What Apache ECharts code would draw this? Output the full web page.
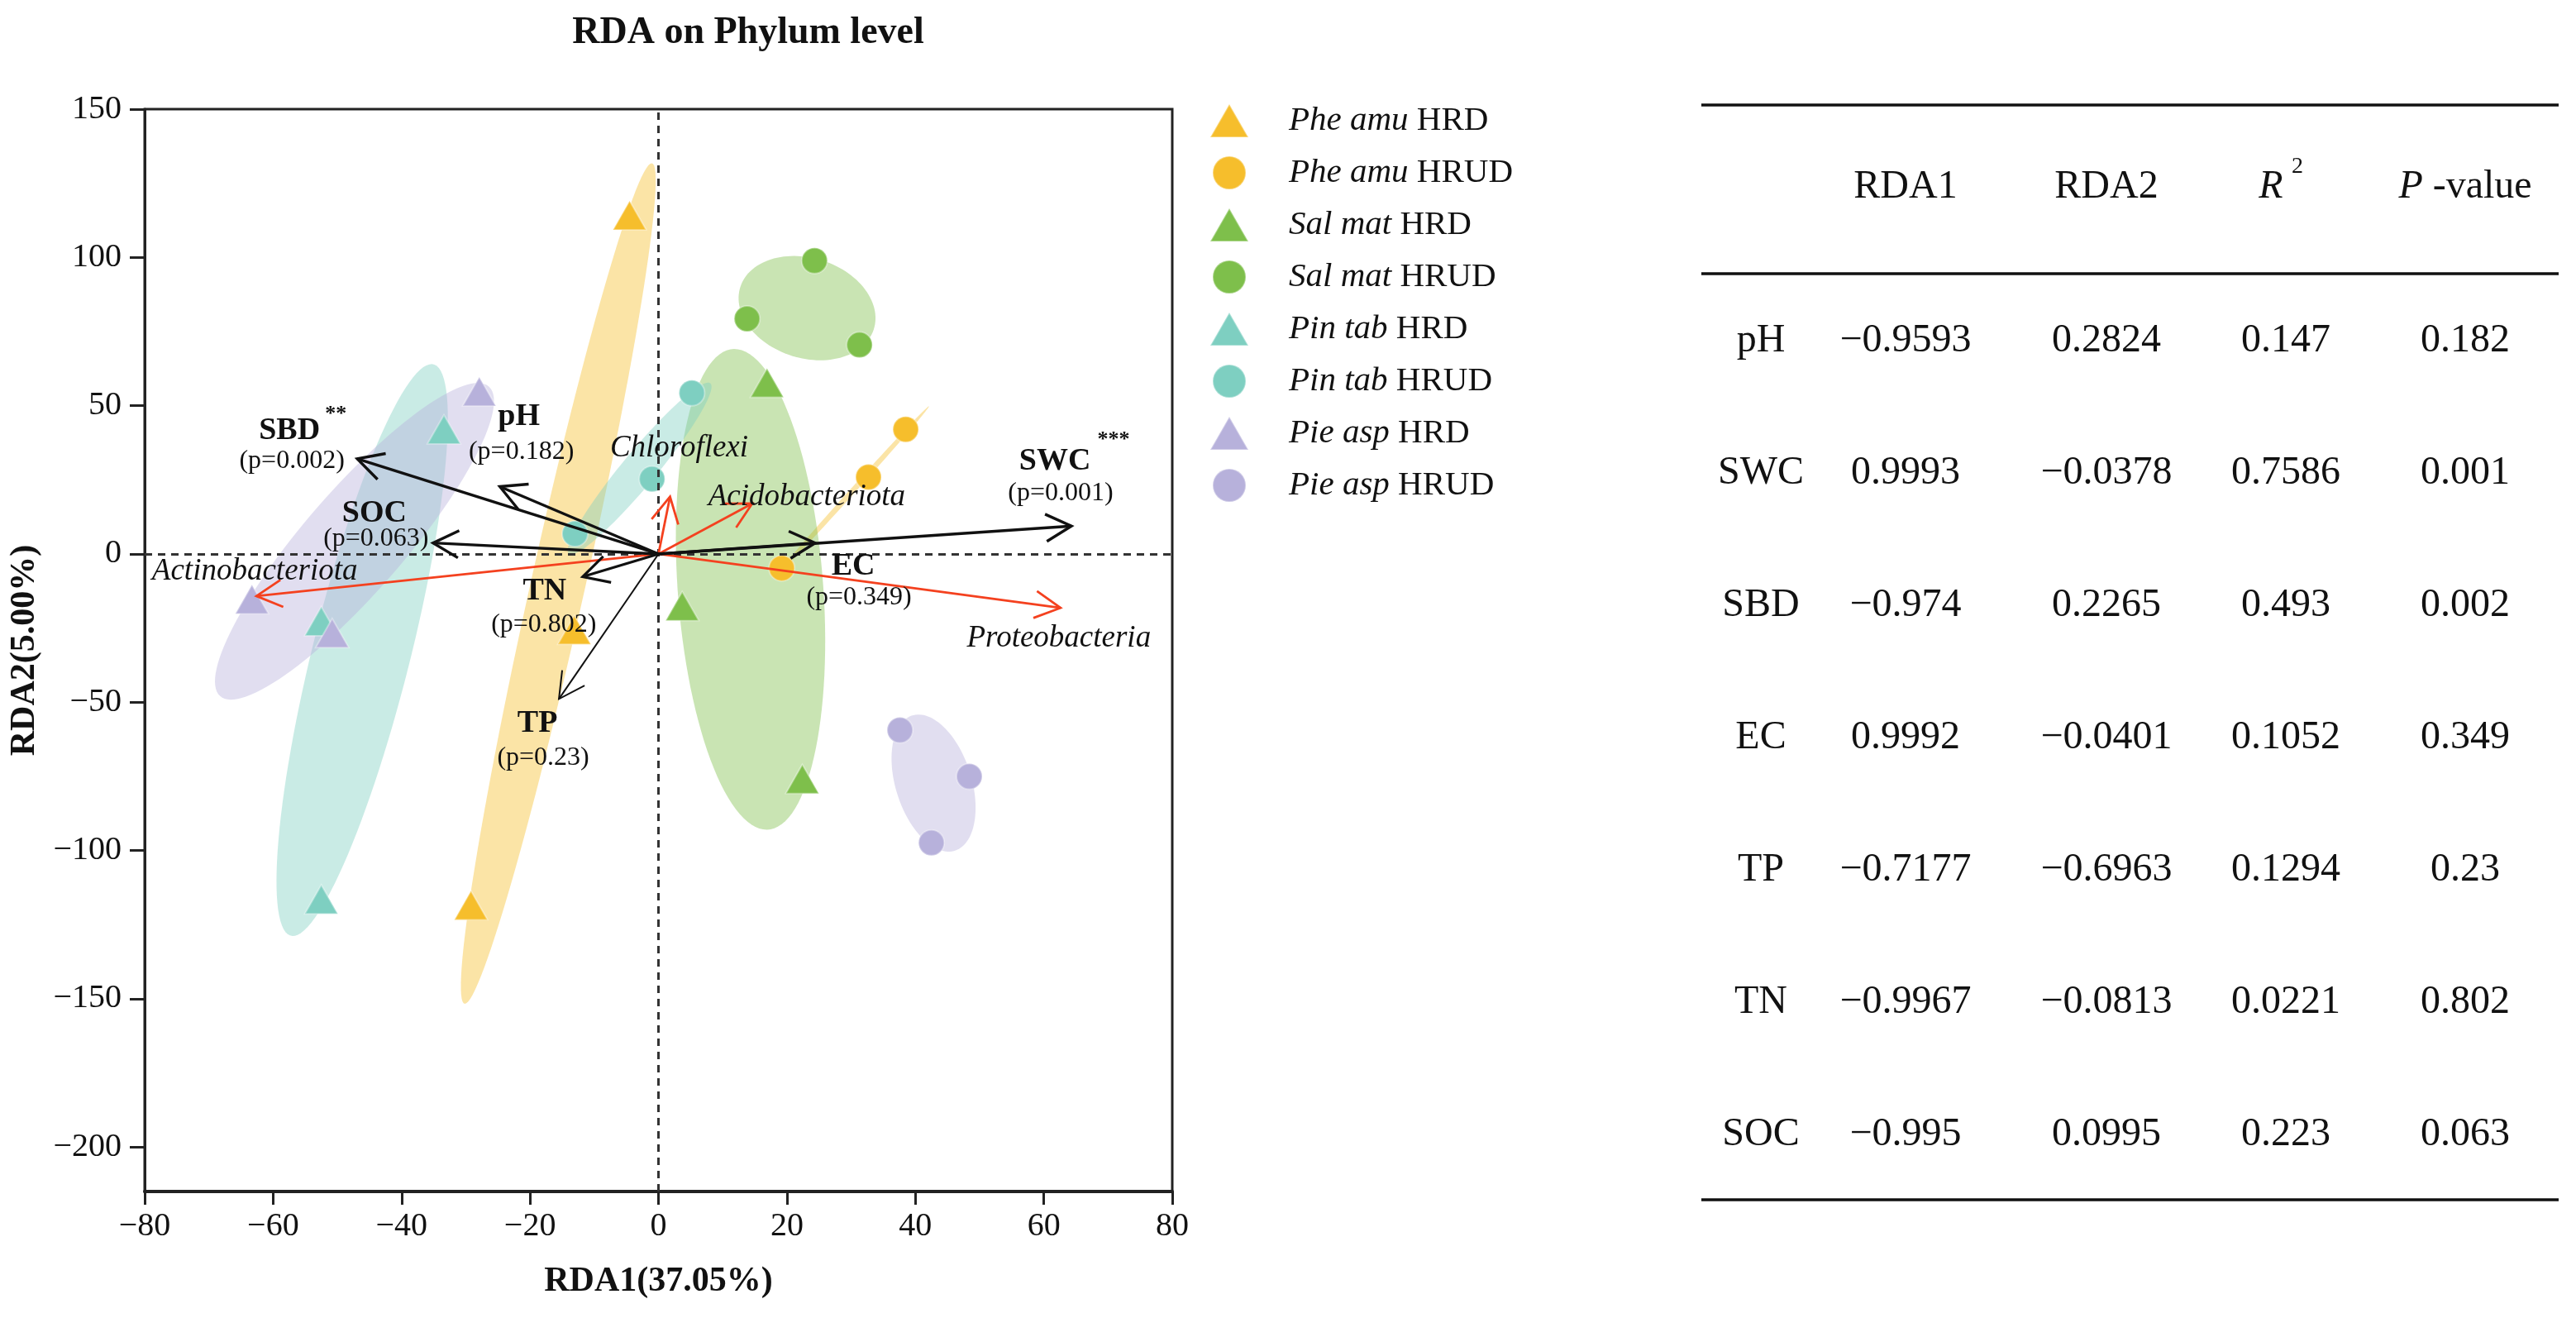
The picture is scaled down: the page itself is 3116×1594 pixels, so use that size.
<!DOCTYPE html>
<html>
<head>
    <meta charset="utf-8">
    <title>RDA on Phylum level</title>
    <script src="https://cdn.jsdelivr.net/npm/echarts@6.0.0/dist/echarts.min.js"></script>
    <style>
        html, body { margin: 0; padding: 0; background: #fff; }
        #chart1 { width: 3116px; height: 1594px; }
    </style>
</head>
<body>
<div id="chart1"></div>
<script type="text/javascript">
    // 样点坐标 (RDA1, RDA2)
    var pheAmuHRD  = [[-4.5, 114.2], [-13.1, -25.6], [-29.2, -118.5]];
    var pheAmuHRUD = [[38.5, 42.0], [32.7, 25.9], [19.2, -4.8]];
    var salMatHRD  = [[16.9, 57.7], [3.7, -17.6], [22.4, -75.9]];
    var salMatHRUD = [[24.3, 98.9], [13.8, 79.3], [31.3, 70.5]];
    var pinTabHRD  = [[-33.4, 42.0], [-52.5, -22.7], [-52.5, -116.5]];
    var pinTabHRUD = [[5.2, 54.3], [-1.0, 25.3], [-13.0, 6.8]];
    var pieAspHRD  = [[-27.9, 54.8], [-63.3, -15.3], [-50.8, -26.7]];
    var pieAspHRUD = [[37.6, -59.4], [48.4, -75.0], [42.5, -97.4]];

    var groupNames   = ['Phe amu HRD', 'Phe amu HRUD', 'Sal mat HRD', 'Sal mat HRUD',
                        'Pin tab HRD', 'Pin tab HRUD', 'Pie asp HRD', 'Pie asp HRUD'];
    var groupSpecies = ['Phe amu', 'Phe amu', 'Sal mat', 'Sal mat', 'Pin tab', 'Pin tab', 'Pie asp', 'Pie asp'];
    var groupSite    = ['HRD', 'HRUD', 'HRD', 'HRUD', 'HRD', 'HRUD', 'HRD', 'HRUD'];
    var groupPoints  = [pheAmuHRD, pheAmuHRUD, salMatHRD, salMatHRUD, pinTabHRD, pinTabHRUD, pieAspHRD, pieAspHRUD];

    // 环境因子箭头
    var envNames = ['pH', 'SWC', 'SBD', 'EC', 'TP', 'TN', 'SOC'];
    var envX = [-24.7, 64.3, -46.9, 24.4, -15.5, -11.8, -35.1];
    var envY = [22.7, 9.4, 32.1, 3.7, -48.9, -7.7, 3.7];

    // 门水平物种箭头
    var phylaNames = ['Actinobacteriota', 'Proteobacteria', 'Chloroflexi', 'Acidobacteriota'];
    var phylaX = [-62.6, 62.6, 1.8, 14.6];
    var phylaY = [-14.2, -18.2, 19.3, 17.0];

    // 右侧表格
    var tableRDA1 = [-0.9593, 0.9993, -0.974, 0.9992, -0.7177, -0.9967, -0.995];
    var tableRDA2 = [0.2824, -0.0378, 0.2265, -0.0401, -0.6963, -0.0813, 0.0995];
    var tableR2   = [0.147, 0.7586, 0.493, 0.1052, 0.1294, 0.0221, 0.223];
    var tableP    = [0.182, 0.001, 0.002, 0.349, 0.23, 0.802, 0.063];

    // 刻度
    var xTicks = [-80, -60, -40, -20, 0, 20, 40, 60, 80];
    var yTicks = [-200, -150, -100, -50, 0, 50, 100, 150];

    // ---------- 样式 ----------
    var FONT = '"Liberation Serif", "DejaVu Serif", serif';
    var groupColor = ['#F6BE2C', '#F6BE2C', '#7EBF4B', '#7EBF4B', '#7ECFC1', '#7ECFC1', '#B7B1DB', '#B7B1DB'];
    var groupShape = ['triangle', 'circle', 'triangle', 'circle', 'triangle', 'circle', 'triangle', 'circle'];
    var ELLIPSE_K = 1.21;
    var envWidth = {pH: 3.4, SWC: 3.4, SBD: 3.4, EC: 3.4, TP: 2, TN: 3.2, SOC: 3.4};
    var envNameOff = {pH: [23, -84], SWC: [-20, -78], SBD: [-82, -34], EC: [46, 29], TP: [-26, 30], TN: [-46, 18], SOC: [-71, -35]};
    var envPOff = {pH: [26, -42], SWC: [-13, -40], SBD: [-79, 3], EC: [53, 66], TP: [-19, 71], TN: [-47, 58], SOC: [-69, -5]};
    var starOff = {SWC: [51, -104], SBD: [-26, -54]};
    var phylaOff = {Actinobacteriota: [-2, -30], Proteobacteria: [-2, 37], Chloroflexi: [11, -58], Acidobacteriota: [66, -8]};
    var RED = '#F4411F';

    function fmt(v) {
        return String(v).replace('-', '\u2212');
    }

    function stars(p) {
        if (p <= 0.001) return '***';
        if (p <= 0.01) return '**';
        if (p <= 0.05) return '*';
        return '';
    }

    // 协方差置信椭圆
    function ellipse(pts) {
        var n = pts.length, mx = 0, my = 0;
        pts.forEach(function (p) { mx += p[0]; my += p[1]; });
        mx /= n; my /= n;
        var sxx = 0, syy = 0, sxy = 0;
        pts.forEach(function (p) {
            var dx = p[0] - mx, dy = p[1] - my;
            sxx += dx * dx; syy += dy * dy; sxy += dx * dy;
        });
        sxx /= (n - 1); syy /= (n - 1); sxy /= (n - 1);
        var tr = sxx + syy, det = sxx * syy - sxy * sxy;
        var d = Math.sqrt(Math.max(tr * tr / 4 - det, 0));
        var a = Math.sqrt(tr / 2 + d), b = Math.sqrt(Math.max(tr / 2 - d, 0));
        var ang = 0.5 * Math.atan2(2 * sxy, sxx - syy);
        var out = [];
        for (var i = 0; i < 120; i++) {
            var t = i / 120 * Math.PI * 2;
            var u = ELLIPSE_K * a * Math.cos(t), v = ELLIPSE_K * b * Math.sin(t);
            out.push([mx + u * Math.cos(ang) - v * Math.sin(ang), my + u * Math.sin(ang) + v * Math.cos(ang)]);
        }
        return out;
    }

    function arrowShapes(o, t, color, w) {
        var a = Math.atan2(t[1] - o[1], t[0] - o[0]);
        var L = 35, th = 28 * Math.PI / 180;
        var h1 = [t[0] - L * Math.cos(a - th), t[1] - L * Math.sin(a - th)];
        var h2 = [t[0] - L * Math.cos(a + th), t[1] - L * Math.sin(a + th)];
        return [
            {type: 'line', shape: {x1: o[0], y1: o[1], x2: t[0], y2: t[1]}, style: {stroke: color, lineWidth: w}},
            {type: 'polyline', shape: {points: [h1, t, h2]}, style: {stroke: color, lineWidth: w, fill: null}}
        ];
    }

    function label(x, y, text, size, weight, style) {
        return {
            type: 'text', x: x, y: y,
            style: {
                text: text, fontFamily: FONT, fontSize: size, fontWeight: weight || 'normal',
                fontStyle: style || 'normal', fill: '#111', align: 'center', verticalAlign: 'middle'
            }
        };
    }

    var myChart1 = echarts.init(document.getElementById('chart1'));

    var series = [];

    // 椭圆
    series.push({
        type: 'custom',
        name: 'ellipse',
        z: 1,
        clip: false,
        silent: true,
        data: groupPoints.map(function (pts, i) { return [pts[0][0], pts[0][1], i]; }),
        renderItem: function (params, api) {
            var i = api.value(2);
            var pts = ellipse(groupPoints[i]).map(function (p) { return api.coord(p); });
            return {
                type: 'polygon',
                shape: {points: pts},
                style: {fill: groupColor[i], opacity: 0.42}
            };
        },
        markLine: {
            silent: true,
            symbol: 'none',
            label: {show: false},
            lineStyle: {type: [9, 7], color: '#333', width: 3},
            data: [{xAxis: 0}, {yAxis: 0}]
        }
    });

    // 样点
    groupNames.forEach(function (name, i) {
        series.push({
            type: 'scatter',
            name: name,
            z: 3,
            symbol: groupShape[i],
            symbolSize: groupShape[i] === 'triangle' ? [40, 35] : 31,
            itemStyle: {color: groupColor[i], opacity: 1, borderColor: 'rgba(255,255,255,0.35)', borderWidth: 2},
            data: groupPoints[i]
        });
    });

    // 物种箭头
    series.push({
        type: 'custom',
        name: 'phyla',
        z: 5,
        clip: false,
        silent: true,
        data: phylaNames.map(function (n, i) { return [phylaX[i], phylaY[i], i]; }),
        renderItem: function (params, api) {
            var i = api.value(2);
            var o = api.coord([0, 0]);
            var t = api.coord([api.value(0), api.value(1)]);
            var kids = arrowShapes(o, t, RED, 2.8);
            var off = phylaOff[phylaNames[i]];
            kids.push(label(t[0] + off[0], t[1] + off[1], phylaNames[i], 37, 'normal', 'italic'));
            return {type: 'group', children: kids};
        }
    });

    // 环境因子箭头
    series.push({
        type: 'custom',
        name: 'env',
        z: 6,
        clip: false,
        silent: true,
        data: envNames.map(function (n, i) { return [envX[i], envY[i], i]; }),
        renderItem: function (params, api) {
            var i = api.value(2);
            var nm = envNames[i];
            var o = api.coord([0, 0]);
            var t = api.coord([api.value(0), api.value(1)]);
            var kids = arrowShapes(o, t, '#111', envWidth[nm]);
            kids.push(label(t[0] + envNameOff[nm][0], t[1] + envNameOff[nm][1], nm, 38, 'bold'));
            kids.push(label(t[0] + envPOff[nm][0], t[1] + envPOff[nm][1], '(p=' + tableP[i] + ')', 32));
            var s = stars(tableP[i]);
            if (s && starOff[nm]) {
                kids.push(label(t[0] + starOff[nm][0], t[1] + starOff[nm][1], s, 26, 'bold'));
            }
            return {type: 'group', children: kids};
        }
    });

    // 表格
    var colX = [2130, 2305, 2548, 2765, 2982];
    var headY = 226, rowY0 = 412, rowStep = 160;
    var graphics = [];
    [127, 331, 1451].forEach(function (y) {
        graphics.push({
            type: 'line', shape: {x1: 2058, y1: y, x2: 3095, y2: y},
            style: {stroke: '#111', lineWidth: 3.5}
        });
    });
    graphics.push(label(colX[1], headY, 'RDA1', 48));
    graphics.push(label(colX[2], headY, 'RDA2', 48));
    graphics.push(label(colX[3] - 18, headY, 'R', 48, 'normal', 'italic'));
    graphics.push(label(colX[3] + 14, headY - 24, '2', 28));
    graphics.push({
        type: 'text', x: colX[4], y: headY,
        style: {
            text: '{i|P} -value', fontFamily: FONT, fontSize: 48, fill: '#111',
            align: 'center', verticalAlign: 'middle',
            rich: {i: {fontFamily: FONT, fontSize: 48, fontStyle: 'italic', fill: '#111'}}
        }
    });
    envNames.forEach(function (nm, i) {
        var y = rowY0 + i * rowStep;
        graphics.push(label(colX[0], y, nm, 48));
        graphics.push(label(colX[1], y, fmt(tableRDA1[i]), 48));
        graphics.push(label(colX[2], y, fmt(tableRDA2[i]), 48));
        graphics.push(label(colX[3], y, fmt(tableR2[i]), 48));
        graphics.push(label(colX[4], y, fmt(tableP[i]), 48));
    });

    myChart1.setOption({
        backgroundColor: '#fff',
        animation: false,
        title: {
            text: 'RDA on Phylum level',
            left: 900,
            top: 12,
            textAlign: 'center',
            textStyle: {fontFamily: FONT, fontWeight: 'bold', fontSize: 46, color: '#111'}
        },
        legend: {
            data: groupNames,
            orient: 'vertical',
            left: 1458,
            top: 120,
            itemWidth: 46,
            itemHeight: 40,
            itemGap: 21,
            selectedMode: false,
            formatter: function (name) {
                var i = groupNames.indexOf(name);
                return '{i|' + groupSpecies[i] + '} ' + groupSite[i];
            },
            textStyle: {
                fontFamily: FONT, fontSize: 41, color: '#111',
                rich: {i: {fontFamily: FONT, fontSize: 41, fontStyle: 'italic', color: '#111', padding: [0, 0, 0, 44]}}
            }
        },
        grid: {
            left: 175, right: 1698, top: 132, bottom: 153,
            show: true, borderColor: '#222', borderWidth: 3
        },
        xAxis: {
            type: 'value',
            min: xTicks[0], max: xTicks[xTicks.length - 1], interval: 20,
            name: 'RDA1(37.05%)', nameLocation: 'middle', nameGap: 88,
            nameTextStyle: {fontFamily: FONT, fontWeight: 'bold', fontSize: 42, color: '#111'},
            axisLine: {onZero: false, lineStyle: {color: '#222', width: 4}},
            axisTick: {show: true, inside: false, length: 16, lineStyle: {color: '#222', width: 3}},
            axisLabel: {
                fontFamily: FONT, fontSize: 40, color: '#111', margin: 22,
                formatter: function (v) { return fmt(v); }
            },
            splitLine: {show: false}
        },
        yAxis: {
            type: 'value',
            min: -215, max: yTicks[yTicks.length - 1],
            name: 'RDA2(5.00%)', nameLocation: 'middle', nameGap: 124,
            nameTextStyle: {fontFamily: FONT, fontWeight: 'bold', fontSize: 42, color: '#111'},
            axisLine: {onZero: false, lineStyle: {color: '#222', width: 3}},
            axisTick: {show: true, inside: false, length: 18, customValues: yTicks, lineStyle: {color: '#222', width: 3}},
            axisLabel: {
                fontFamily: FONT, fontSize: 40, color: '#111', margin: 28, customValues: yTicks,
                formatter: function (v) { return fmt(v); }
            },
            splitLine: {show: false}
        },
        graphic: graphics,
        series: series
    });
</script>
</body>
</html>
